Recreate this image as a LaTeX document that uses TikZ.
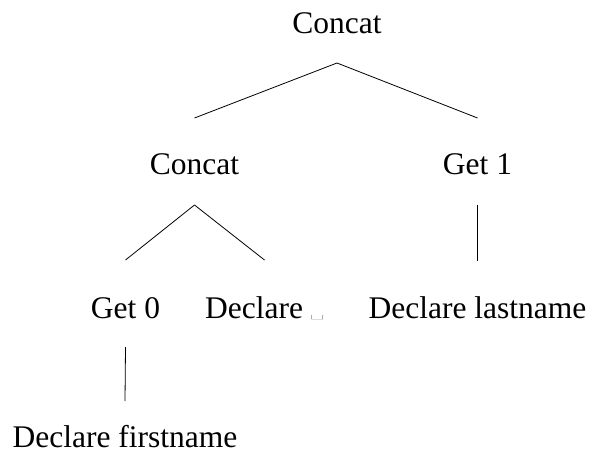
\documentclass[tikz,border=0pt]{standalone}
\usepackage{fontspec}
\usepackage{graphicx}
\setmainfont{Liberation Serif}
\newfontfamily\lmfont{Latin Modern Roman}
\usetikzlibrary{calc}
\tikzset{
  lbl/.style={anchor=base, inner sep=0pt, font=\fontsize{31.5}{36}\selectfont},
  edge/.style={line width=0.8pt, black}
}
\begin{document}
\begin{tikzpicture}[x=1pt,y=-1pt]
\useasboundingbox (0,0) rectangle (591,462);
\node[lbl] (r)  at (337,34)  {Concat};
\node[lbl] (c)  at (194.5,175) {Concat};
\node[lbl] (g1) at (477.5,175) {Get 1};
\node[lbl] (g0) at (125.5,318) {Get 0};
\node[lbl] (d)  at (264.5,318) {Declare \scalebox{0.9}[0.4]{\lmfont\textvisiblespace}};
\node[lbl] (dl) at (477.5,318) {Declare lastname};
\node[lbl] (df) at (125,447) {Declare firstname};
\draw[edge] ($(r.base)+(0,29)$) -- ($(c.base)+(0,-57)$);
\draw[edge] ($(r.base)+(0,29)$) -- ($(g1.base)+(0,-57)$);
\draw[edge] ($(c.base)+(0,30)$) -- ($(g0.base)+(0,-58)$);
\draw[edge] ($(c.base)+(0,30)$) -- ($(d.base)+(0,-58)$);
\draw[edge] ($(g1.base)+(0,30)$) -- ($(dl.base)+(0,-57)$);
\draw[edge] ($(g0.base)+(0,29)$) -- ($(df.base)+(0,-46)$);
\end{tikzpicture}
\end{document}
